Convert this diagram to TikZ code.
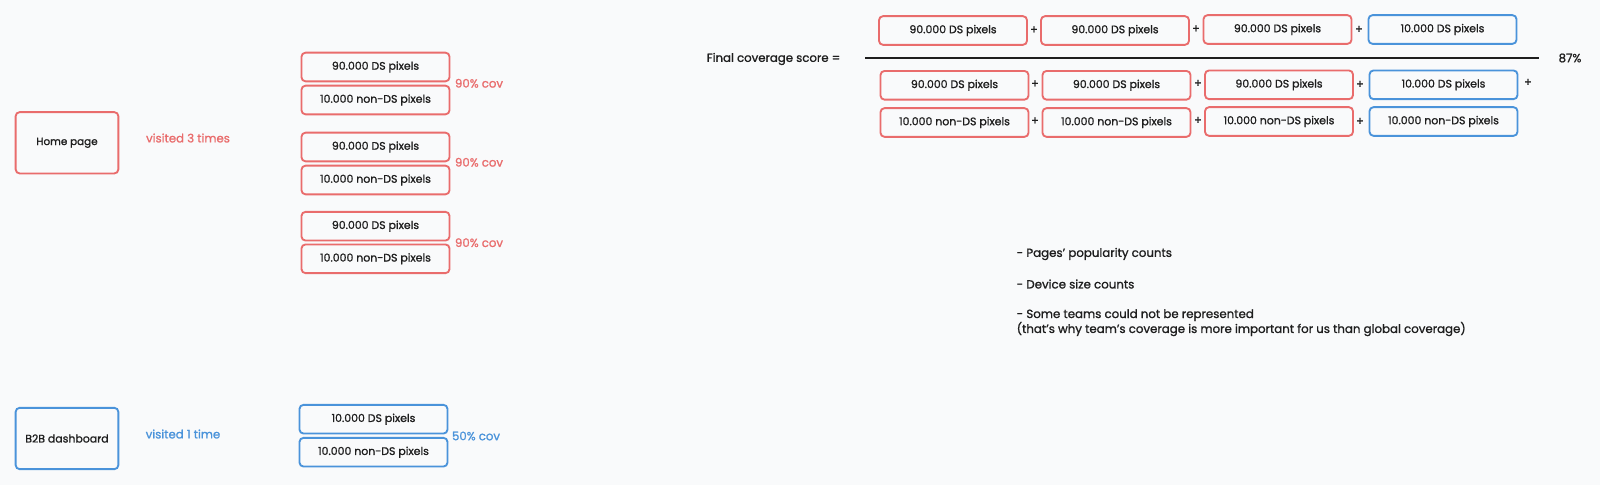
\documentclass[tikz,border=0pt]{standalone}
\usepackage{fontspec}
\setmainfont{Poppins}[FakeBold=1.2]
\usetikzlibrary{positioning}

\definecolor{pagebg}{HTML}{F9FAFB}
\definecolor{redline}{HTML}{E96C6C}
\definecolor{blueline}{HTML}{4A93DA}
\definecolor{inkcol}{HTML}{1E1E1E}

\begin{document}
\begin{tikzpicture}[
  x=0.75pt, y=-0.75pt,
  font=\fontsize{8.2}{9.6}\selectfont, text=inkcol,
  pagebox/.style={rectangle, draw, rounded corners=3pt, line width=1.4pt, minimum width=77pt, minimum height=46pt},
  pxbox/.style={rectangle, draw, rounded corners=3pt, line width=1.4pt, minimum width=111pt, minimum height=21.5pt, inner sep=0pt},
  redbox/.style={pxbox, draw=redline},
  bluebox/.style={pxbox, draw=blueline},
  plus/.style={font=\fontsize{8.5}{9}\selectfont},
  covlabel/.style={font=\fontsize{8.8}{10}\selectfont},
  notetext/.style={font=\fontsize{8.85}{11.2}\selectfont}
]

\fill[pagebg] (0,0) rectangle (1600,485);
\useasboundingbox (0,0) rectangle (1600,485);

% Home page (visited 3 times)
\node[pagebox, draw=redline, font=\fontsize{7.8}{9}\selectfont] (home) at (67,142.8) {Home page};
\node[covlabel, text=redline] (homevis) at (188,138) {visited 3 times};

\node[redbox] (homeds1) at (375.5,67) {90.000 DS pixels};
\node[redbox] (homenon1) at (375.5,100) {10.000 non-DS pixels};
\node[covlabel, text=redline] (homecov1) at (479,83.3) {90\% cov};

\node[redbox] (homeds2) at (375.5,147) {90.000 DS pixels};
\node[redbox] (homenon2) at (375.5,180) {10.000 non-DS pixels};
\node[covlabel, text=redline] (homecov2) at (479,162.3) {90\% cov};

\node[redbox] (homeds3) at (375.5,226.2) {90.000 DS pixels};
\node[redbox] (homenon3) at (375.5,258.8) {10.000 non-DS pixels};
\node[covlabel, text=redline] (homecov3) at (479,242.7) {90\% cov};

% B2B dashboard (visited 1 time)
\node[pagebox, draw=blueline] (dash) at (67,438.5) {B2B dashboard};
\node[covlabel, text=blueline] (dashvis) at (183,434) {visited 1 time};

\node[bluebox] (dashds) at (373.5,419.2) {10.000 DS pixels};
\node[bluebox] (dashnon) at (373.5,452.2) {10.000 non-DS pixels};
\node[covlabel, text=blueline] (dashcov) at (476,436) {50\% cov};

% Fraction
\node[covlabel] (final) at (773.5,59) {Final coverage score =};
\coordinate (barL) at (865,57.7);
\coordinate (barR) at (1539,57.7);
\draw[inkcol, line width=1.3pt] (barL) -- (barR);
\node[covlabel] (score) at (1570,58) {87\%};

% numerator
\node[redbox] (num1) at (953,30.5) {90.000 DS pixels};
\node[redbox] (num2) at (1115,30.5) {90.000 DS pixels};
\node[redbox] (num3) at (1277.5,29.5) {90.000 DS pixels};
\node[bluebox] (num4) at (1442.5,29.5) {10.000 DS pixels};
\node[plus] (np1) at (1034,30) {+};
\node[plus] (np2) at (1196,29) {+};
\node[plus] (np3) at (1359,29.5) {+};

% denominator
\node[redbox] (den1) at (954.5,85.3) {90.000 DS pixels};
\node[redbox] (den2) at (1116.5,85.3) {90.000 DS pixels};
\node[redbox] (den3) at (1279,84.8) {90.000 DS pixels};
\node[bluebox] (den4) at (1443.5,84.8) {10.000 DS pixels};
\node[plus] (dp1) at (1035,84) {+};
\node[plus] (dp2) at (1198,83.5) {+};
\node[plus] (dp3) at (1360,84.5) {+};
\node[plus] (dp4) at (1528,82.5) {+};

\node[redbox] (den5) at (954.5,122.5) {10.000 non-DS pixels};
\node[redbox] (den6) at (1116.5,122.5) {10.000 non-DS pixels};
\node[redbox] (den7) at (1279,121.5) {10.000 non-DS pixels};
\node[bluebox] (den8) at (1443.5,121.5) {10.000 non-DS pixels};
\node[plus] (dp5) at (1035,121) {+};
\node[plus] (dp6) at (1198,120.5) {+};
\node[plus] (dp7) at (1360,121.5) {+};

% Notes
\node[notetext, anchor=west] (note1) at (1012,254) {- Pages' popularity counts};
\node[notetext, anchor=west] (note2) at (1012,284) {- Device size counts};
\node[notetext, anchor=north west, align=left, inner ysep=0pt] (note3) at (1012,309)
  {- Some teams could not be represented\\(that's why team's coverage is more important for us than global coverage)};

\end{tikzpicture}
\end{document}
